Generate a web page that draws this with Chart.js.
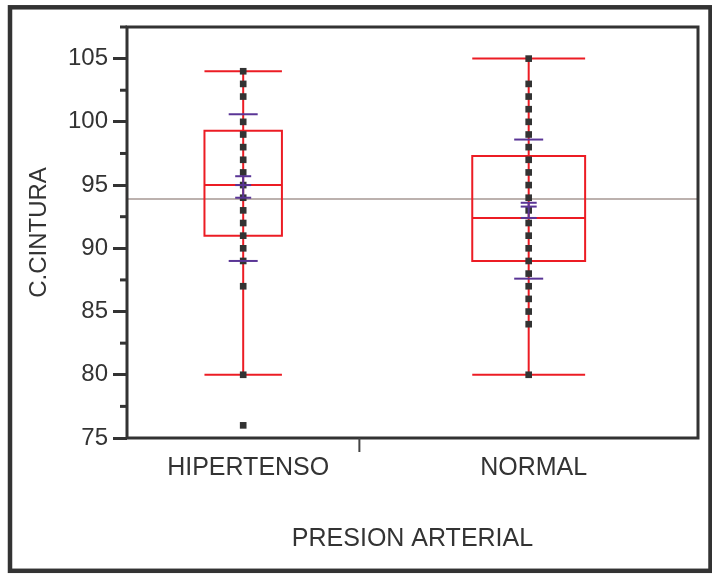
<!DOCTYPE html>
<html><head><meta charset="utf-8">
<script src="https://cdn.jsdelivr.net/npm/chart.js@4.4.0/dist/chart.umd.min.js"></script>
<style>html,body{margin:0;padding:0;background:#fff}canvas{display:block}</style>
</head><body>
<canvas id="c" width="712" height="576"></canvas>
<script>
// ---- data ----
const categories = ['HIPERTENSO', 'NORMAL'];
const groupSizes = [35, 51];
const hipertensoValues = [104,103,102,100,99,98,97,96,95,94,93,92,91,90,89,87,80,76];
const normalValues = [105,103,102,101,100,99,98,97,96,95,94,93,92,91,90,89,88,87,86,85,84,80];
const whiskerHigh = [104, 105];
const quartile3 = [99.3, 97.3];
const medians = [95.0, 92.4];
const quartile1 = [91.0, 89.0];
const whiskerLow = [80, 80];
const meanMarks = [95.0, 93.3];
const seUpper = [95.7, 93.6];
const seLower = [94.0, 92.4];
const sdUpper = [100.6, 98.6];
const sdLower = [89.0, 87.6];
const grandMean = 93.9;
const yTickValues = [75, 80, 85, 90, 95, 100, 105];
const yMinorValues = [77.5, 82.5, 87.5, 92.5, 97.5, 102.5, 107.5];
const yMin = 75, yMax = 107.5;
const xTitle = 'PRESION ARTERIAL';
const yTitle = 'C.CINTURA';

// ---- derived group geometry (in data units) ----
const total = groupSizes.reduce((a, b) => a + b, 0);
const bounds = [0];
groupSizes.forEach(n => bounds.push(bounds[bounds.length - 1] + n));
const centers = groupSizes.map((n, i) => bounds[i] + n / 2);
const groupValues = [hipertensoValues, normalValues];

const FONT = '"Liberation Sans", Arial, Helvetica, sans-serif';
const TEXT = '#333333';
const RED = '#ec1c24';
const PURPLE = '#5a3596';
const FRAME = '#333333';

function seg(ctx, x1, y1, x2, y2) { ctx.beginPath(); ctx.moveTo(x1, y1); ctx.lineTo(x2, y2); ctx.stroke(); }

const boxPlugin = {
  id: 'boxes',
  beforeDatasetsDraw(chart) {
    const { ctx, chartArea: a, scales: { x, y } } = chart;
    ctx.save();
    ctx.lineCap = 'butt';
    ctx.strokeStyle = '#bcb1ae'; ctx.lineWidth = 2;
    const gy = y.getPixelForValue(grandMean);
    seg(ctx, a.left, gy, a.right, gy);
    ctx.strokeStyle = RED; ctx.lineWidth = 2;
    categories.forEach((c, i) => {
      const cx = x.getPixelForValue(centers[i]);
      const half = (x.getPixelForValue(bounds[i + 1]) - x.getPixelForValue(bounds[i])) / 6;
      const yH = y.getPixelForValue(whiskerHigh[i]), yL = y.getPixelForValue(whiskerLow[i]);
      const y3 = y.getPixelForValue(quartile3[i]), y1 = y.getPixelForValue(quartile1[i]);
      const ym = y.getPixelForValue(medians[i]);
      seg(ctx, cx, yH, cx, yL);
      seg(ctx, cx - half, yH, cx + half, yH);
      seg(ctx, cx - half, yL, cx + half, yL);
      ctx.beginPath(); ctx.rect(cx - half, y3, 2 * half, y1 - y3); ctx.stroke();
      seg(ctx, cx - half, ym, cx + half, ym);
    });
    ctx.restore();
  },
  afterDatasetsDraw(chart) {
    const { ctx, scales: { x, y } } = chart;
    ctx.save();
    ctx.strokeStyle = PURPLE; ctx.lineWidth = 2;
    categories.forEach((c, i) => {
      const cx = x.getPixelForValue(centers[i]);
      const su = y.getPixelForValue(seUpper[i]), sl = y.getPixelForValue(seLower[i]);
      const mm = y.getPixelForValue(meanMarks[i]);
      seg(ctx, cx, su, cx, sl);
      [su, sl, mm].forEach(py => seg(ctx, cx - 8, py, cx + 8, py));
      [sdUpper[i], sdLower[i]].forEach(v => {
        const py = y.getPixelForValue(v);
        seg(ctx, cx - 14.5, py, cx + 14.5, py);
      });
    });
    ctx.restore();
  },
  afterDraw(chart) {
    const { ctx, chartArea: a, scales: { x, y } } = chart;
    ctx.save();
    ctx.strokeStyle = FRAME; ctx.lineWidth = 3;
    ctx.strokeRect(a.left, a.top, a.right - a.left, a.bottom - a.top);
    yMinorValues.forEach(v => {
      const py = y.getPixelForValue(v);
      seg(ctx, a.left - 7, py, a.left, py);
    });
    ctx.strokeStyle = '#444'; ctx.lineWidth = 2;
    for (let i = 1; i < bounds.length - 1; i++) {
      const px = x.getPixelForValue(bounds[i]);
      seg(ctx, px, a.bottom, px, a.bottom + 14);
    }
    ctx.strokeStyle = FRAME; ctx.lineWidth = 4.5;
    ctx.strokeRect(10, 7.3, 700.5, 563.5);
    ctx.restore();
  }
};

const pointStyle = { pointStyle: 'rect', pointRadius: 4.7, pointHoverRadius: 4.7, backgroundColor: '#333333', borderWidth: 0 };

new Chart(document.getElementById('c'), {
  type: 'scatter',
  data: {
    datasets: groupValues.map((vals, i) => Object.assign({
      label: categories[i],
      data: vals.map(v => ({ x: centers[i], y: v }))
    }, pointStyle))
  },
  options: {
    responsive: false,
    animation: false,
    events: [],
    layout: { padding: { top: 27, right: 14, left: 0, bottom: 0 } },
    plugins: { legend: { display: false }, tooltip: { enabled: false } },
    scales: {
      x: {
        type: 'linear', min: 0, max: total,
        afterBuildTicks(s) { s.ticks = centers.map(v => ({ value: v })); },
        afterFit(s) { s.height = 138; },
        grid: { display: false, drawTicks: false },
        border: { display: false },
        ticks: { autoSkip: false, maxRotation: 0, padding: 18, labelOffset: 5, color: TEXT,
                 font: { family: FONT, size: 25, lineHeight: 1 },
                 callback: (v, i) => categories[i] },
        title: { display: true, text: xTitle, color: TEXT,
                 font: { family: FONT, size: 25, lineHeight: 1 }, padding: { top: 0, bottom: 24 } }
      },
      y: {
        type: 'linear', min: yMin, max: yMax,
        afterBuildTicks(s) { s.ticks = yTickValues.map(v => ({ value: v })); },
        afterFit(s) { s.width = 127; },
        grid: { display: true, drawOnChartArea: false, drawTicks: true, tickLength: 14, tickWidth: 3, tickColor: FRAME },
        border: { display: false },
        ticks: { autoSkip: false, padding: 5, color: TEXT, font: { family: FONT, size: 24, lineHeight: 1 } },
        title: { display: true, text: yTitle, color: TEXT,
                 font: { family: FONT, size: 24, lineHeight: 1 }, padding: { top: 27, bottom: 0 } }
      }
    }
  },
  plugins: [boxPlugin]
});
</script>
</body></html>
